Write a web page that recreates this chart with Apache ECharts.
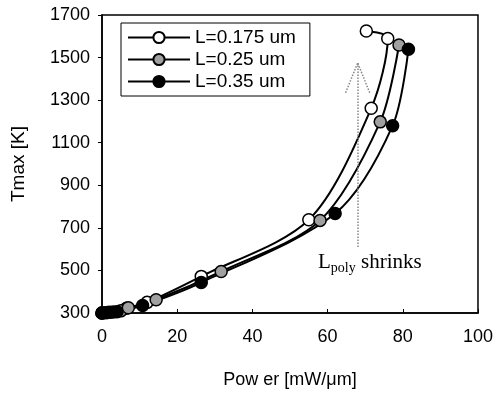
<!DOCTYPE html>
<html>
<head>
<meta charset="utf-8">
<script src="https://cdn.jsdelivr.net/npm/echarts@6/dist/echarts.min.js"></script>
<style>
  html, body { margin: 0; padding: 0; background: #fff; }
  #chart { width: 496px; height: 398px; }
</style>
</head>
<body>
<div id="chart"></div>
<script>
// Power [mW/um] vs Tmax [K]
const seriesNames = ['L=0.175 um', 'L=0.25 um', 'L=0.35 um'];
const power175 = [0, 1, 3, 6.5, 12, 26.4, 55, 71.6, 76, 70.3];
const tmax175  = [300, 301, 305, 322, 350, 472, 738, 1262, 1590, 1625];
const power25  = [0, 2, 5, 7, 14.4, 31.7, 58, 74, 79];
const tmax25   = [300, 303, 310, 325, 362, 495, 735, 1198, 1559];
const power35  = [0, 1.5, 4, 10.8, 26.4, 62, 77.3, 81.5];
const tmax35   = [300, 302, 306, 335, 443, 767, 1180, 1539];
const xTicks = [0, 20, 40, 60, 80, 100];
const yTicks = [300, 500, 700, 900, 1100, 1300, 1500, 1700];
// dotted "shrinks" arrow (shaft + two head strokes), data coords
const arrowFrom = [68, 610];
const arrowTip = [68, 1475];
const headLeft = [64.8, 1335];
const headRight = [71.2, 1335];

const pair = (xs, ys) => xs.map((x, i) => [x, ys[i]]);
const font = 'Liberation Sans, Arial, sans-serif';
const serif = 'Liberation Serif, Times New Roman, serif';

const chart = echarts.init(document.getElementById('chart'));

const lineSeries = (name, data, fill) => ({
  name: name,
  type: 'line',
  data: data,
  smooth: 0.3,
  symbol: 'circle',
  symbolSize: 12,
  showSymbol: true,
  lineStyle: { color: '#000', width: 2 },
  itemStyle: { color: fill, borderColor: '#000', borderWidth: 1.5 },
  z: 3
});

const s175 = lineSeries(seriesNames[0], pair(power175, tmax175), '#fff');
s175.markLine = {
  silent: true,
  symbol: ['none', 'none'],
  label: { show: false },
  lineStyle: { type: 'dotted', color: '#888', width: 1.5 },
  data: [
    [{ coord: arrowFrom }, { coord: arrowTip }],
    [{ coord: headLeft }, { coord: arrowTip }],
    [{ coord: headRight }, { coord: arrowTip }]
  ]
};

chart.setOption({
  animation: false,
  backgroundColor: '#fff',
  grid: {
    left: 102, right: 18, top: 15, bottom: 85,
    show: true, borderColor: '#000', borderWidth: 1.5
  },
  legend: {
    orient: 'vertical',
    left: 121, top: 23,
    padding: [5, 14, 5, 6],
    itemGap: 3,
    itemWidth: 62,
    itemHeight: 14,
    borderColor: '#000',
    borderWidth: 1,
    backgroundColor: '#fff',
    textStyle: { fontFamily: font, fontSize: 19, color: '#000' },
    data: seriesNames
  },
  xAxis: {
    type: 'value',
    min: 0, max: 100, interval: 20,
    name: 'Pow er [mW/\u03bcm]',
    nameLocation: 'middle',
    nameGap: 58,
    nameTextStyle: { fontFamily: font, fontSize: 18, color: '#000' },
    axisLine: { show: true, lineStyle: { color: '#000', width: 1.5 } },
    axisTick: { show: true, inside: true, length: 4, lineStyle: { color: '#000' } },
    axisLabel: { fontFamily: font, fontSize: 18, color: '#000', margin: 15 },
    splitLine: { show: false }
  },
  yAxis: {
    type: 'value',
    min: 300, max: 1700, interval: 200,
    name: 'Tmax [K]',
    nameLocation: 'middle',
    nameGap: 74,
    nameTextStyle: { fontFamily: font, fontSize: 19, color: '#000' },
    axisLine: { show: true, lineStyle: { color: '#000', width: 1.5 } },
    axisTick: { show: true, length: 4, lineStyle: { color: '#000' } },
    axisLabel: {
      fontFamily: font, fontSize: 18, color: '#000', margin: 12,
      formatter: v => String(v)
    },
    splitLine: { show: false }
  },
  graphic: [{
    type: 'text',
    left: 318, top: 252,
    style: {
      text: '{l|L}{sub|poly}{l| shrinks}',
      rich: {
        l: { fontFamily: serif, fontSize: 21, fill: '#000' },
        sub: { fontFamily: serif, fontSize: 14, fill: '#000', padding: [12, 0, 0, 0] }
      }
    }
  }],
  series: [
    s175,
    lineSeries(seriesNames[1], pair(power25, tmax25), '#a0a0a0'),
    lineSeries(seriesNames[2], pair(power35, tmax35), '#000')
  ]
});
</script>
</body>
</html>
